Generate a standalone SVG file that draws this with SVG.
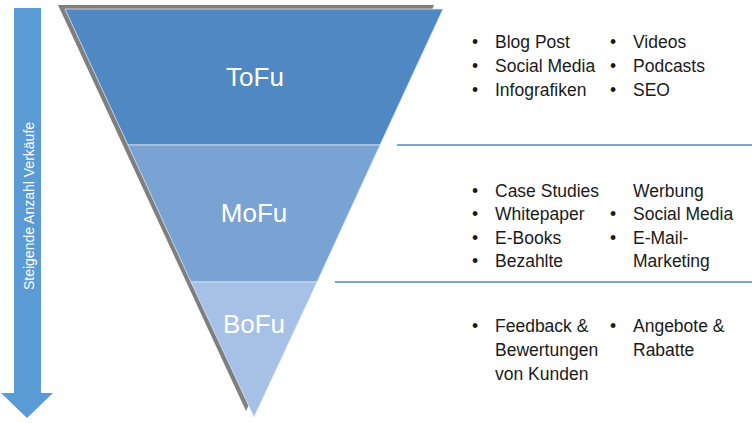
<svg xmlns="http://www.w3.org/2000/svg" width="752" height="423" viewBox="0 0 752 423">
<style>
.lbl{font-family:"Liberation Sans","Open Sans",sans-serif;fill:#ffffff;text-anchor:middle;font-size:26px}
.li{font-family:"Liberation Sans","Open Sans",sans-serif;fill:#1a1a1a;font-size:17.5px}
.sep{stroke:#4F88C2;stroke-width:1.5;fill:none}
.band{stroke:#dbe6f3;stroke-width:0.8}
</style>
<rect width="752" height="423" fill="#ffffff"/>
<g id="arrow">
<path d="M14,8 H41 V393 H53 L27,418 L1,393 H14 Z" fill="#5B9BD5"/>
<text transform="translate(34,206) rotate(-90)" text-anchor="middle" font-family="Liberation Sans, Open Sans, sans-serif" font-size="14" fill="#ffffff">Steigende Anzahl Verkäufe</text>
</g>
<g id="funnel-shadow">
<polygon points="58,5 434,5 246,411" fill="#7F7F7F"/>
</g>
<g id="tofu">
<polygon class="band" points="65,9 443,9 380,145 128,145" fill="#4F88C2"/>
<text class="lbl" x="255" y="86">ToFu</text>
</g>
<g id="mofu">
<polygon class="band" points="128,145 380,145 317,282 191,282" fill="#79A3D3"/>
<text class="lbl" x="254" y="222">MoFu</text>
</g>
<g id="bofu">
<polygon class="band" points="191,282 317,282 254,417" fill="#A6C1E5"/>
<text class="lbl" x="254" y="333">BoFu</text>
</g>
<g id="separators">
<line class="sep" x1="397" y1="145" x2="752" y2="145"/>
<line class="sep" x1="335" y1="282" x2="752" y2="282"/>
</g>
<g id="tofu-list" class="li">
<text x="472" y="48">•</text><text x="495" y="48">Blog Post</text>
<text x="472" y="72">•</text><text x="495" y="72">Social Media</text>
<text x="472" y="96">•</text><text x="495" y="96">Infografiken</text>
<text x="610" y="48">•</text><text x="633" y="48">Videos</text>
<text x="610" y="72">•</text><text x="633" y="72">Podcasts</text>
<text x="610" y="96">•</text><text x="633" y="96">SEO</text>
</g>
<g id="mofu-list" class="li">
<text x="472" y="197">•</text><text x="495" y="197">Case Studies</text>
<text x="472" y="220">•</text><text x="495" y="220">Whitepaper</text>
<text x="472" y="244">•</text><text x="495" y="244">E-Books</text>
<text x="472" y="267">•</text><text x="495" y="267">Bezahlte</text>
<text x="633" y="197">Werbung</text>
<text x="610" y="220">•</text><text x="633" y="220">Social Media</text>
<text x="610" y="244">•</text><text x="633" y="244">E-Mail-</text>
<text x="633" y="267">Marketing</text>
</g>
<g id="bofu-list" class="li">
<text x="472" y="332">•</text><text x="495" y="332">Feedback &amp;</text>
<text x="495" y="356">Bewertungen</text>
<text x="495" y="380">von Kunden</text>
<text x="610" y="332">•</text><text x="633" y="332">Angebote &amp;</text>
<text x="633" y="356">Rabatte</text>
</g>
</svg>
